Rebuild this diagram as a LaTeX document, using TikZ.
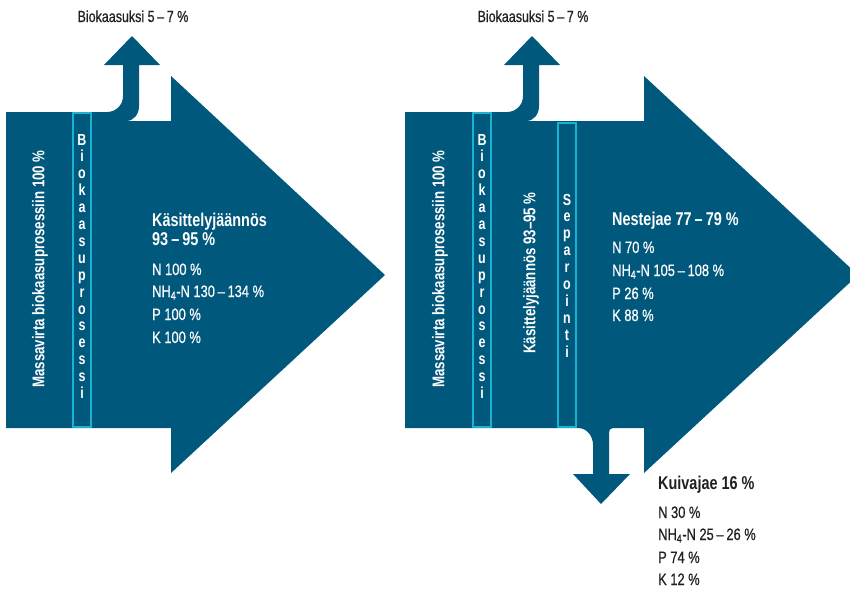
\documentclass[tikz,border=0pt]{standalone}
\usepackage{fontspec}
\setmainfont{Liberation Sans}[FakeStretch=0.78]
\newfontfamily\medfont{Liberation Sans}[FakeStretch=0.78, FakeBold=0.6]
\definecolor{flow}{RGB}{0,88,124}
\definecolor{cyanbox}{RGB}{24,178,212}
\definecolor{ink}{RGB}{35,31,32}
\begin{document}
\begin{tikzpicture}[x=1pt,y=-1pt,
  flowfill/.style={fill=flow, draw=none},
  procbox/.style={draw=cyanbox, line width=2pt},
  stackletter/.style={text=white, font=\bfseries\fontsize{16}{16}\selectfont, anchor=base, inner sep=0pt},
  vlabel/.style={text=white, font=\bfseries\fontsize{17}{17}\selectfont, rotate=90, inner sep=0pt},
  titletext/.style={font=\bfseries\fontsize{18.5}{19}\selectfont, anchor=base west, inner sep=0pt},
  itemtext/.style={font=\medfont\fontsize{16.5}{17}\selectfont, anchor=base west, inner sep=0pt},
  gaslabel/.style={text=ink, font=\medfont\fontsize{16}{16}\selectfont, anchor=base, inner sep=0pt}
]
\useasboundingbox (0,0) rectangle (850,589);
\clip (0,0) rectangle (850,589);

% left flow shape
\fill[flowfill] (6,112) -- (107,112) .. controls (116,112) and (123,105) .. (123,96)
  -- (123,65) -- (104,65) -- (132,36) -- (160,65) -- (139,65) -- (139,106)
  .. controls (139,114) and (134,121) .. (126,121) -- (171,121) -- (171,76)
  -- (385,275) -- (171,473) -- (171,428) -- (6,428) -- cycle;

% right flow shape
\fill[flowfill] (405,112) -- (507,112) .. controls (516,112) and (523,105) .. (523,96)
  -- (523,65) -- (504,65) -- (532,36) -- (560,65) -- (539,65) -- (539,106)
  .. controls (539,114) and (534,121) .. (526,121) -- (644,121) -- (644,76)
  -- (858,275) -- (644,473) -- (644,428) -- (613,428)
  .. controls (610,428) and (609,430) .. (609,433) -- (609,474) -- (630,474)
  -- (601,504) -- (573,474) -- (593,474) -- (593,445)
  .. controls (593,436) and (587,428) .. (578,428) -- (405,428) -- cycle;

% process boxes
\draw[procbox] (73,113) rectangle (91,427);
\draw[procbox] (473,113) rectangle (491,427);
\draw[procbox] (558,123) rectangle (576,427);

% gas labels
\node[gaslabel] (gasL) at (133,22) {Biokaasuksi 5\,–\,7 \%};
\node[gaslabel] (gasR) at (533,22) {Biokaasuksi 5\,–\,7 \%};

% rotated labels
\node[vlabel] (massL) at (40,269) {Massavirta biokaasuprosessiin 100 \%};
\node[vlabel] (massR) at (440,269) {Massavirta biokaasuprosessiin 100 \%};
\node[vlabel] (kasR) at (531,273) {Käsittelyjäännös 93–95 \%};

% stacked letters
\foreach \c [count=\i] in {B,i,o,k,a,a,s,u,p,r,o,s,e,s,s,i} {
  \node[stackletter] (bioL\i) at (82,{145+(\i-1)*16.9}) {\c};
  \node[stackletter] (bioR\i) at (482,{145+(\i-1)*16.9}) {\c};
}
\foreach \c [count=\i] in {S,e,p,a,r,o,i,n,t,i} {
  \node[stackletter] (sep\i) at (567,{205+(\i-1)*16.9}) {\c};
}

% left results
\node[titletext, text=white] (kt1) at (152,226) {Käsittelyjäännös};
\node[titletext, text=white] (kt2) at (152,245) {93\,–\,95 \%};
\node[itemtext, text=white] (kn) at (152,275) {N 100 \%};
\node[itemtext, text=white] (knh) at (152,297) {NH\textsubscript{4}-N 130\,–\,134 \%};
\node[itemtext, text=white] (kp) at (152,320) {P 100 \%};
\node[itemtext, text=white] (kk) at (152,343) {K 100 \%};

% liquid fraction
\node[titletext, text=white] (nt) at (612,225) {Nestejae 77\,–\,79 \%};
\node[itemtext, text=white] (nn) at (612,253) {N 70 \%};
\node[itemtext, text=white] (nnh) at (612,276) {NH\textsubscript{4}-N 105\,–\,108 \%};
\node[itemtext, text=white] (np) at (612,299) {P 26 \%};
\node[itemtext, text=white] (nk) at (612,321) {K 88 \%};

% dry fraction
\node[titletext, text=ink] (dt) at (658,489) {Kuivajae 16 \%};
\node[itemtext, text=ink] (dn) at (658,518) {N 30 \%};
\node[itemtext, text=ink] (dnh) at (658,540) {NH\textsubscript{4}-N 25\,–\,26 \%};
\node[itemtext, text=ink] (dp) at (658,563) {P 74 \%};
\node[itemtext, text=ink] (dk) at (658,585) {K 12 \%};
\end{tikzpicture}
\end{document}
